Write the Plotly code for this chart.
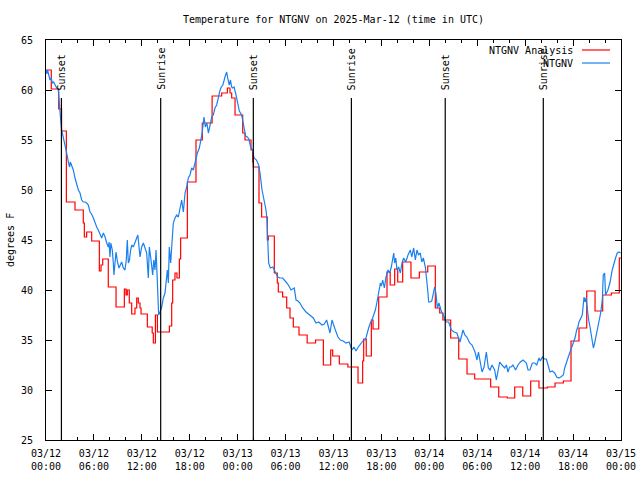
import pandas as pd
import plotly.graph_objects as go

BASE = pd.Timestamp("2025-03-12 00:00")

# NTGNV Analysis (red step line): hours since 2025-03-12 00:00 UTC, deg F
red_hours = [0.00, 0.66, 1.59, 1.95, 2.55, 3.63, 4.67, 4.80, 5.09, 5.72, 6.68, 6.89, 7.10, 7.80,
             8.77, 9.81, 10.02, 10.18, 10.43, 10.73, 11.14, 11.36, 11.56, 11.77, 11.90, 12.69,
             13.30, 13.44, 13.70, 13.95, 15.45, 15.74, 15.86, 16.15, 16.40, 16.70, 16.86, 17.70,
             18.78, 19.57, 20.80, 22.00, 22.71, 23.04, 23.25, 23.67, 24.63, 24.92, 25.67, 25.88,
             25.96, 26.67, 27.00, 27.71, 27.84, 28.59, 28.96, 29.09, 29.63, 30.14, 30.55, 30.97,
             31.68, 32.70, 33.75, 34.73, 35.65, 35.90, 36.73, 37.80, 39.07, 39.65, 39.78, 40.10,
             40.74, 40.95, 41.66, 42.70, 43.10, 43.66, 44.04, 44.66, 45.70, 46.75, 47.80, 48.75,
             49.30, 49.70, 50.67, 51.68, 52.72, 53.68, 55.68, 56.69, 57.76, 58.69, 59.70, 60.69,
             61.73, 62.77, 63.74, 64.78, 65.74, 66.74, 67.71, 68.75, 69.71, 70.80, 71.79, 72.00]
red_temps = [62.0, 60.1, 58.1, 55.9, 48.8, 48.0, 46.7, 45.3, 45.8, 44.9, 41.9, 42.5, 43.1, 40.3,
             38.3, 40.1, 39.5, 40.0, 38.7, 37.6, 38.2, 39.2, 38.7, 38.2, 37.6, 36.3,
             35.7, 34.7, 37.5, 35.8, 36.4, 38.7, 41.0, 41.7, 41.2, 43.1, 45.2, 50.8,
             55.0, 56.7, 59.4, 59.7, 60.2, 59.7, 59.2, 57.5, 55.7, 55.0, 54.0, 52.8,
             52.3, 48.7, 47.3, 45.0, 45.4, 41.7, 40.7, 39.8, 39.3, 38.2, 37.2, 36.3,
             35.5, 34.7, 35.0, 32.5, 34.0, 33.4, 32.6, 32.3, 30.7, 32.9, 35.1, 33.4,
             37.0, 36.1, 39.3, 41.8, 40.5, 42.1, 40.8, 42.8, 41.2, 41.8, 42.4, 38.2,
             37.7, 37.0, 35.2, 33.1, 31.6, 31.1, 30.3, 29.3, 29.2, 30.3, 29.4, 30.9,
             30.2, 30.3, 30.7, 30.9, 34.9, 36.2, 39.9, 37.9, 39.5, 39.7, 43.2, 43.2]

# NTGNV observations (blue line)
blue_hours = [0.00, 0.10, 0.20, 0.35, 0.50, 0.65, 0.80, 0.95, 1.15, 1.34, 1.54, 1.67, 1.75, 1.84,
              1.96, 2.10, 2.25, 2.40, 2.59, 2.80, 2.95, 3.05, 3.21, 3.42, 3.63, 3.84, 4.05, 4.26,
              4.47, 4.67, 4.90, 5.09, 5.30, 5.51, 5.70, 5.93, 6.14, 6.35, 6.55, 6.76, 6.97, 7.18,
              7.40, 7.60, 7.80, 7.90, 8.01, 8.12, 8.30, 8.43, 8.51, 8.64, 8.77, 8.95, 9.14, 9.30,
              9.47, 9.68, 9.89, 10.05, 10.18, 10.31, 10.45, 10.60, 10.75, 10.93, 11.14, 11.36,
              11.50, 11.60, 11.77, 11.98, 12.19, 12.40, 12.61, 12.81, 12.94, 13.15, 13.36, 13.50,
              13.65, 13.78, 13.94, 14.11, 14.27, 14.49, 14.69, 14.90, 15.03, 15.19, 15.32, 15.44,
              15.61, 15.74, 15.94, 16.15, 16.36, 16.57, 16.78, 16.99, 17.20, 17.41, 17.62, 17.82,
              18.03, 18.24, 18.45, 18.66, 18.95, 19.20, 19.40, 19.55, 19.78, 19.95, 20.15, 20.33,
              20.55, 20.75, 20.95, 21.16, 21.37, 21.58, 21.80, 21.95, 22.15, 22.41, 22.62, 22.80,
              22.95, 23.10, 23.25, 23.37, 23.55, 23.79, 24.00, 24.21, 24.50, 24.79, 25.00, 25.21,
              25.40, 25.63, 25.85, 26.05, 26.35, 26.63, 26.80, 27.05, 27.34, 27.55, 27.67, 27.76,
              27.88, 28.09, 28.40, 28.71, 29.01, 29.30, 29.64, 30.05, 30.35, 30.68, 31.09, 31.31,
              31.55, 31.80, 32.14, 32.56, 32.97, 33.47, 33.81, 34.15, 34.56, 34.85, 35.14, 35.35,
              35.56, 35.81, 36.00, 36.23, 36.56, 36.85, 37.20, 37.57, 37.95, 38.32, 38.55, 38.82,
              39.10, 39.48, 39.78, 40.00, 40.20, 40.40, 40.61, 40.82, 41.03, 41.24, 41.45, 41.66,
              41.87, 42.00, 42.16, 42.37, 42.58, 42.83, 43.03, 43.24, 43.54, 43.65, 43.80, 43.95,
              44.16, 44.37, 44.58, 44.79, 45.05, 45.33, 45.62, 45.80, 46.04, 46.25, 46.45, 46.65,
              46.87, 47.05, 47.25, 47.50, 47.71, 47.83, 47.92, 48.08, 48.30, 48.46, 48.67, 48.82,
              49.00, 49.20, 49.45, 49.84, 50.10, 50.42, 50.76, 51.10, 51.45, 51.65, 51.84, 52.00,
              52.22, 52.45, 52.70, 53.05, 53.35, 53.72, 53.97, 54.15, 54.43, 54.60, 54.85, 55.14,
              55.39, 55.60, 55.85, 56.18, 56.39, 56.60, 56.81, 57.10, 57.44, 57.65, 57.85, 58.05,
              58.25, 58.47, 58.80, 59.10, 59.40, 59.73, 59.95, 60.15, 60.36, 60.60, 60.90, 61.20,
              61.45, 61.73, 61.90, 62.15, 62.40, 62.65, 62.86, 63.11, 63.40, 63.70, 63.95, 64.20,
              64.45, 64.78, 64.95, 65.20, 65.40, 65.62, 65.82, 66.03, 66.24, 66.45, 66.60, 66.74,
              66.95, 67.15, 67.37, 67.50, 67.62, 67.78, 67.95, 68.12, 68.33, 68.54, 68.70, 68.95,
              69.24, 69.45, 69.66, 69.78, 69.95, 70.07, 70.36, 70.61, 70.90, 71.11, 71.32, 71.53,
              71.74, 71.95]
blue_temps = [62.0, 61.6, 62.0, 61.5, 61.0, 61.2, 60.7, 60.8, 60.4, 60.2, 60.0, 59.0, 58.0, 57.0,
              56.0, 55.5, 55.0, 54.7, 53.7, 52.8, 52.3, 52.8, 52.5, 52.0, 51.2, 50.5, 50.0, 49.7,
              49.0, 48.8, 48.8, 48.7, 48.5, 47.8, 47.6, 47.2, 46.7, 46.3, 46.0, 45.5, 45.2, 45.7,
              45.3, 44.7, 44.3, 44.8, 43.3, 44.7, 44.0, 42.7, 41.5, 42.7, 43.8, 42.8, 42.2, 42.5,
              42.8, 42.2, 42.0, 43.0, 45.0, 42.7, 43.0, 44.0, 44.5, 44.3, 44.8, 45.3,
              45.5, 44.7, 43.3, 44.3, 44.7, 44.2, 43.7, 41.2, 44.3, 43.0, 41.5, 43.0,
              42.0, 44.0, 40.2, 37.5, 37.8, 38.3, 39.2, 39.7, 40.7, 42.0, 40.7, 44.3,
              42.7, 44.7, 46.7, 47.2, 47.5, 47.3, 48.2, 49.0, 47.8, 49.7, 50.3, 51.2,
              51.5, 52.2, 52.0, 52.8, 53.7, 54.2, 55.0, 55.7, 57.3, 56.3, 56.7, 55.7,
              56.5, 57.3, 57.5, 58.2, 58.5, 59.3, 60.0, 60.3, 60.5, 61.3, 61.8, 61.0,
              60.5, 61.0, 60.3, 60.2, 60.3, 59.5, 58.8, 57.9, 57.5, 56.3, 55.4, 55.3,
              55.1, 54.3, 54.0, 53.2, 53.0, 52.5, 51.7, 50.0, 48.7, 48.0, 47.0, 44.3,
              42.7, 42.2, 42.3, 41.8, 41.3, 41.2, 41.2, 40.8, 40.5, 40.0, 40.2, 39.0,
              38.9, 38.7, 38.2, 37.8, 37.5, 37.2, 36.7, 36.8, 36.5, 36.6, 37.0, 36.3,
              35.7, 37.0, 36.5, 36.0, 35.3, 35.0, 34.9, 34.7, 34.8, 34.0, 34.3, 33.9,
              34.3, 34.7, 35.0, 35.0, 35.7, 36.2, 36.7, 37.0, 37.5, 38.0, 38.8, 39.8,
              40.7, 40.4, 41.0, 40.2, 41.3, 42.0, 41.7, 42.3, 43.7, 42.7, 43.2, 42.0,
              42.3, 41.7, 42.7, 43.2, 42.8, 43.5, 44.0, 43.3, 44.2, 43.0, 44.0, 43.5,
              43.7, 42.8, 43.2, 42.3, 41.0, 39.7, 38.8, 38.8, 38.9, 39.7, 40.3, 39.7,
              38.2, 38.7, 38.0, 37.3, 36.8, 36.8, 36.0, 35.8, 35.7, 35.2, 34.8, 35.3,
              36.0, 35.5, 35.3, 34.7, 34.5, 33.8, 33.0, 33.8, 32.5, 31.8, 32.3, 33.8,
              32.2, 32.0, 32.5, 32.0, 31.0, 32.0, 32.8, 32.5, 32.2, 32.5, 31.8, 32.3,
              32.3, 32.5, 32.0, 32.5, 32.8, 33.0, 32.8, 32.7, 32.0, 32.0, 32.7, 32.7,
              32.5, 33.2, 32.9, 33.3, 33.1, 33.1, 32.5, 31.8, 31.9, 31.7, 31.3, 31.2,
              31.3, 31.5, 32.2, 32.7, 33.3, 33.8, 34.3, 34.7, 35.2, 36.0, 36.3, 36.8,
              37.2, 37.5, 39.3, 38.8, 39.2, 38.0, 37.0, 36.3, 35.3, 34.2, 34.7, 35.7,
              36.7, 37.7, 39.0, 41.5, 41.7, 39.5, 40.0, 40.7, 42.0, 42.7, 43.2, 43.7,
              43.8, 43.7]

# Sunset / sunrise markers (hours since start)
sun_hours = [1.93, 14.36, 25.96, 38.24, 49.99, 62.27]
sun_labels = ["Sunset", "Sunrise", "Sunset", "Sunrise", "Sunset", "Sunrise"]

# Axis ticks
tick_hours = [0, 6, 12, 18, 24, 30, 36, 42, 48, 54, 60, 66, 72]
tick_dates = ["03/12", "03/12", "03/12", "03/12", "03/13", "03/13", "03/13", "03/13",
              "03/14", "03/14", "03/14", "03/14", "03/15"]
tick_times = ["00:00", "06:00", "12:00", "18:00", "00:00", "06:00", "12:00", "18:00",
              "00:00", "06:00", "12:00", "18:00", "00:00"]
y_ticks = [25, 30, 35, 40, 45, 50, 55, 60, 65]


def to_time(hours):
    return [BASE + pd.Timedelta(hours=h) for h in hours]


FONT = "DejaVu Sans Mono"
RED = "#ff0000"
BLUE = "#1a80f0"
x_range = to_time([tick_hours[0], tick_hours[-1]])
SUN_TOP = 59.2
SUN_LABEL_Y = 59.8

fig = go.Figure()
fig.add_trace(go.Scatter(x=to_time(red_hours), y=red_temps, mode="lines",
                         line=dict(color=RED, width=1.2, shape="hv"),
                         name="NTGNV Analysis", showlegend=False))
fig.add_trace(go.Scatter(x=to_time(blue_hours), y=blue_temps, mode="lines",
                         line=dict(color=BLUE, width=1.2),
                         name="NTGNV", showlegend=False))

sun_x, sun_y = [], []
for h in sun_hours:
    t = BASE + pd.Timedelta(hours=h)
    sun_x += [t, t, None]
    sun_y += [y_ticks[0], SUN_TOP, None]
fig.add_trace(go.Scatter(x=sun_x, y=sun_y, mode="lines", xaxis="x2",
                         line=dict(color="black", width=1.2), showlegend=False,
                         hoverinfo="skip"))

for h, lab in zip(sun_hours, sun_labels):
    fig.add_annotation(x=BASE + pd.Timedelta(hours=h), y=SUN_LABEL_Y, text=lab,
                       textangle=-90, showarrow=False, xanchor="center", yanchor="bottom",
                       font=dict(family=FONT, size=10, color="black"))

# Legend (gnuplot style: text right-aligned, sample to the right)
L, W, T, H = 46, 575, 40, 400


def px(x):
    return (x - L) / W


def py(y):
    return (T + H - y) / H


for name, color, ypix in [("NTGNV Analysis", RED, 50), ("NTGNV", BLUE, 63)]:
    fig.add_annotation(xref="paper", yref="paper", x=px(575), y=py(ypix), text=name,
                       showarrow=False, xanchor="right", yanchor="middle",
                       font=dict(family=FONT, size=10, color="black"))
    fig.add_shape(type="line", xref="paper", yref="paper", x0=px(582), x1=px(610),
                  y0=py(ypix), y1=py(ypix), line=dict(color=color, width=1.2))

fig.add_annotation(xref="paper", yref="paper", x=px(10), y=0.5, text="degrees F",
                   textangle=-90, showarrow=False, xanchor="center", yanchor="middle",
                   font=dict(family=FONT, size=10, color="black"))

axis_common = dict(showgrid=False, zeroline=False, linecolor="black", linewidth=1,
                   showline=True, mirror="ticks", ticks="inside", tickcolor="black",
                   ticklen=6, automargin=False,
                   tickfont=dict(family=FONT, size=10, color="black"))

fig.update_layout(
    width=640, height=480,
    margin=dict(l=L, r=640 - L - W, t=T, b=480 - T - H, autoexpand=False),
    paper_bgcolor="white", plot_bgcolor="white",
    title=dict(text="Temperature for NTGNV on 2025-Mar-12 (time in UTC)",
               x=px(333.5), xref="paper", xanchor="center", y=1 - 19 / 480, yanchor="middle",
               font=dict(family=FONT, size=10, color="black")),
    xaxis=dict(type="date", range=x_range, tickvals=to_time(tick_hours), ticktext=tick_dates,
               minor=dict(dtick=2 * 3600 * 1000, ticks="inside", ticklen=3, tickcolor="black"),
               ticklabelstandoff=4,
               **axis_common),
    xaxis2=dict(type="date", range=x_range, overlaying="x", anchor="y", side="bottom",
                matches="x", tickvals=to_time(tick_hours), ticktext=tick_times,
                showgrid=False, zeroline=False, showline=False, ticks="", automargin=False,
                ticklabelstandoff=19,
                tickfont=dict(family=FONT, size=10, color="black")),
    yaxis=dict(range=[y_ticks[0], y_ticks[-1]], tickvals=y_ticks, ticklabelstandoff=10,
               **axis_common),
    showlegend=False,
)

fig.write_html("out.html", config={"displayModeBar": False, "staticPlot": True},
               post_script="document.body.style.margin='0px';document.body.style.overflow='hidden';")
